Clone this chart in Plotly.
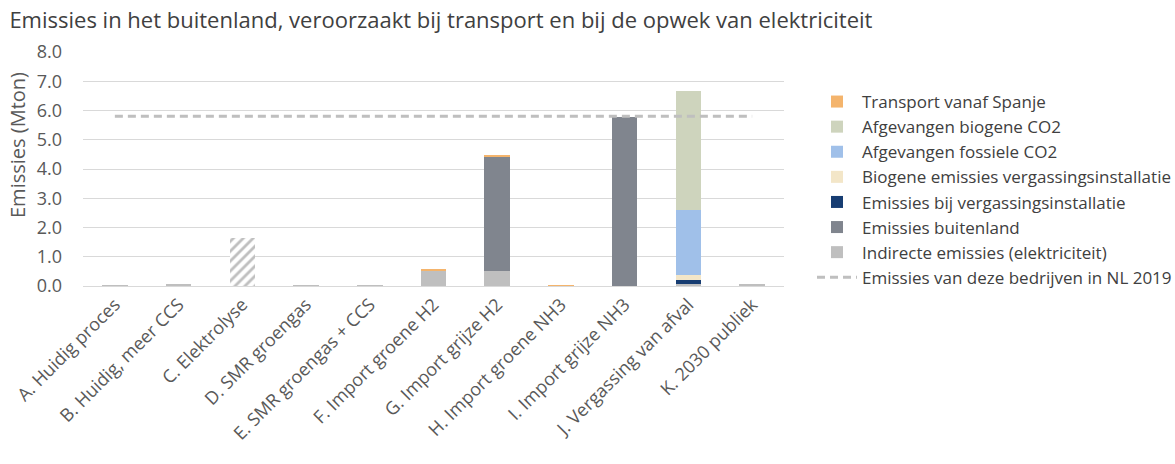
import plotly.graph_objects as go

categories = ["A. Huidig proces", "B. Huidig, meer CCS", "C. Elektrolyse", "D. SMR groengas",
              "E. SMR groengas + CCS", "F. Import groene H2", "G. Import grijze H2",
              "H. Import groene NH3", "I. Import grijze NH3", "J. Vergassing van afval",
              "K. 2030 publiek"]

indirecte = [0.02, 0.06, 1.65, 0.01, 0.01, 0.52, 0.53, 0.0, 0.0, 0.08, 0.05]
buitenland = [0, 0, 0, 0, 0, 0, 3.91, 0, 5.78, 0, 0]
bij_vergassing = [0, 0, 0, 0, 0, 0, 0, 0, 0, 0.13, 0]
biogeen_vergassing = [0, 0, 0, 0, 0, 0, 0, 0.01, 0, 0.17, 0]
fossiel_co2 = [0, 0, 0, 0, 0, 0, 0, 0, 0, 2.21, 0]
biogeen_co2 = [0, 0, 0, 0, 0, 0, 0, 0, 0, 4.09, 0]
transport = [0, 0, 0, 0, 0, 0.03, 0.02, 0.01, 0, 0, 0]
nl_2019 = [5.8] * len(categories)

# hatched bar for elektrolyse
patterns = ["", "", "/", "", "", "", "", "", "", "", ""]

series = [
    ("Indirecte emissies (elektriciteit)", indirecte, "#bfbfbf"),
    ("Emissies buitenland", buitenland, "#80858e"),
    ("Emissies bij vergassingsinstallatie", bij_vergassing, "#173d72"),
    ("Biogene emissies vergassingsinstallatie", biogeen_vergassing, "#f3e6c8"),
    ("Afgevangen fossiele CO2", fossiel_co2, "#a0c0e9"),
    ("Afgevangen biogene CO2", biogeen_co2, "#ced4bd"),
    ("Transport vanaf Spanje", transport, "#f4b46c"),
]

fig = go.Figure()
for i, (name, vals, col) in enumerate(series):
    marker = dict(color=col, line=dict(width=0))
    if name.startswith("Indirecte"):
        marker["pattern"] = dict(shape=patterns, fgcolor=col, bgcolor="white",
                                 size=7, solidity=0.4, fillmode="replace")
    fig.add_trace(go.Bar(x=categories, y=vals, name=name, marker=marker,
                         legendgroup=name, legendrank=100 - i))

fig.add_trace(go.Scatter(x=categories, y=nl_2019, mode="lines",
                         name="Emissies van deze bedrijven in NL 2019", legendgroup="nl",
                         line=dict(color="#bfbfbf", width=3, dash="8px,5px"), legendrank=200))

font = "Open Sans"
W, H = 1175, 464
plot_w, plot_h = 701, 234
fig.update_layout(
    barmode="stack", bargap=0.6,
    width=W, height=H,
    margin=dict(l=83, r=391, t=52, b=178),
    paper_bgcolor="white", plot_bgcolor="white",
    font=dict(family=font, color="#595959", size=16),
    title=dict(text="Emissies in het buitenland, veroorzaakt bij transport en bij de opwek van elektriciteit",
               x=0.008, xanchor="left", y=0.957, yanchor="middle",
               font=dict(size=22, color="#404040", family=font)),
    yaxis=dict(range=[0, 8], dtick=1, tickformat=".1f", gridcolor="#d9d9d9", zeroline=False,
               automargin=False, tickfont=dict(size=18, color="#595959"), ticklabelstandoff=20),
    xaxis=dict(tickangle=-45, tickfont=dict(size=18, color="#595959"), showline=True,
               automargin=False, linecolor="#d9d9d9", linewidth=1),
    legend=dict(xref="container", yref="container", x=812 / W, y=1 - 84 / H,
                xanchor="left", yanchor="top",
                font=dict(size=17, color="#404040"),
                tracegroupgap=0, itemwidth=40, traceorder="grouped"),
    annotations=[dict(text="Emissies (Mton)", x=(17 - 83) / plot_w, xref="paper",
                      y=(286 - 145) / plot_h, yref="paper", xanchor="center", yanchor="middle",
                      showarrow=False, textangle=-90, font=dict(size=20, color="#595959"))],
)

fig.write_html("out.html", config={"displayModeBar": False},
               post_script="document.body.style.margin='0';")
